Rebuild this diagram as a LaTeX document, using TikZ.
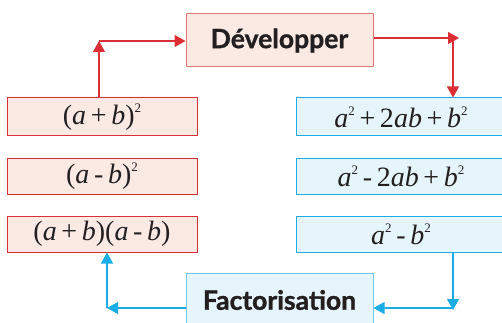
\documentclass[tikz,border=0pt]{standalone}
\usepackage{fontspec}
\setmainfont{Liberation Serif}
\newfontfamily\labfont[BoldFeatures={FakeBold=1.2}]{Lato}
\usetikzlibrary{arrows.meta}
\definecolor{rline}{HTML}{DC2E35}
\definecolor{rlight}{HTML}{E8777A}
\definecolor{rfill}{HTML}{FAEAE3}
\definecolor{bline}{HTML}{1AADE6}
\definecolor{blight}{HTML}{6FC9EE}
\definecolor{bfill}{HTML}{E6F5FC}
\definecolor{txt}{HTML}{231F20}
\newcommand\vv[1]{\textit{#1}}
\newcommand\sq{\raisebox{0.42em}{\fontsize{13}{13}\selectfont 2}}
\begin{document}
\begin{tikzpicture}[x=1pt,y=-1pt,
  redbox/.style={draw=rline,fill=rfill,line width=1pt,minimum width=190pt,inner sep=0pt,
    font=\fontsize{28}{28}\selectfont,text=txt},
  bluebox/.style={draw=bline,fill=bfill,line width=1pt,minimum width=210pt,inner sep=0pt,
    font=\fontsize{28}{28}\selectfont,text=txt},
  title/.style={minimum width=187pt,minimum height=53pt,inner sep=0pt,line width=1pt,
    font=\labfont\bfseries\fontsize{26.5}{26.5}\selectfont,text=txt},
  rarr/.style={draw=rline,line width=1.2pt,-{Triangle[length=11pt,width=12pt]}},
  barr/.style={draw=bline,line width=1.2pt,-{Triangle[length=11pt,width=12pt]}},
]
\useasboundingbox (0,0) rectangle (502,323);
% left (red) boxes
\node[redbox,minimum height=38pt] (l1) at (102,117) {(\vv{a}\,+\,\vv{b})\sq};
\node[redbox,minimum height=36pt] (l2) at (102,176) {(\vv{a}\,-\,\vv{b})\sq};
\node[redbox,minimum height=36pt] (l3) at (102,234) {(\vv{a}\,+\,\vv{b})(\vv{a}\,-\,\vv{b})};
% right (blue) boxes
\node[bluebox,minimum height=38pt] (r1) at (401,117) {\vv{a}\sq\,+\,2\vv{ab}\,+\,\vv{b}\sq};
\node[bluebox,minimum height=36pt] (r2) at (401,176) {\vv{a}\sq\,-\,2\vv{ab}\,+\,\vv{b}\sq};
\node[bluebox,minimum height=36pt] (r3) at (401,234) {\vv{a}\sq\,-\,\vv{b}\sq};
% titles
\node[title,draw=rlight,fill=rfill] (dev) at (279.5,40.5) {Développer};
\node[title,draw=blight,fill=bfill] (fac) at (279.5,300) {Factorisation};
% coordinates
\coordinate (c1) at (99,41);
\coordinate (c2) at (459,38);
\coordinate (c3) at (453,38);
\coordinate (c4) at (453,310);
\coordinate (c5) at (107,308);
% red connectors
\draw[rarr] (c1 |- l1.north) -- (c1);
\draw[rarr] (c1) -- (dev.west |- c1);
\draw[rarr] (dev.east |- c2) -- (c2);
\draw[rarr] (c3) -- (c3 |- r1.north);
% blue connectors
\draw[barr] (c4 |- r3.south) -- (c4);
\draw[barr] (c4 |- c5) -- (fac.east |- c5);
\draw[barr] (fac.west |- c5) -- (c5);
\draw[barr] (c5) -- (c5 |- l3.south);
\end{tikzpicture}
\end{document}
